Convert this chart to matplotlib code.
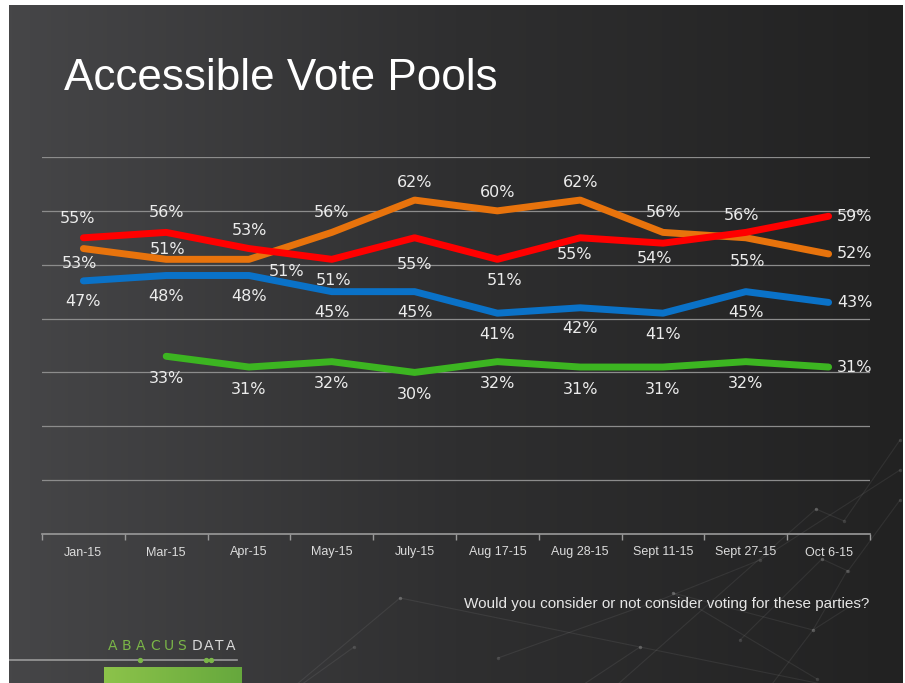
import numpy as np
import matplotlib
matplotlib.use("Agg")
import matplotlib.pyplot as plt

W, H = 905, 683

# data
months = ["Jan-15", "Mar-15", "Apr-15", "May-15", "July-15", "Aug 17-15",
          "Aug 28-15", "Sept 11-15", "Sept 27-15", "Oct 6-15"]
red = [55, 56, 53, 51, 55, 51, 55, 54, 56, 59]
orange = [53, 51, 51, 56, 62, 60, 62, 56, 55, 52]
blue = [47, 48, 48, 45, 45, 41, 42, 41, 45, 43]
green = [np.nan, 33, 31, 32, 30, 32, 31, 31, 32, 31]

# label offsets in points (dx, dy) for all points but the last one
red_off = [(-4, 14), (0, 14), (0, 13), (1, -15), (0, -19), (5, -15), (-4, -12), (-6, -11), (-3, 12)]
orange_off = [(-3, -11), (1, 7), (27, -9), (0, 14), (0, 13), (0, 13), (0, 13), (0, 14), (1, -17)]
blue_off = [(0, -15)] * 9
green_off = [None] + [(0, -16)] * 8

fig = plt.figure(figsize=(W / 100, H / 100), dpi=100)
fig.patch.set_facecolor("white")

# slide background
bg = fig.add_axes([9 / W, 0, (W - 11) / W, 1 - 5 / H])
grad = np.linspace(0, 1, 256)[None, :]
cmap = matplotlib.colors.LinearSegmentedColormap.from_list("bg", ["#464648", "#2f2f30", "#222222"])
bg.imshow(grad, aspect="auto", cmap=cmap, extent=[9, W - 2, H, 5])

# faint network decoration
deco = [[(400, 598), (640, 647), (900, 700)],
        [(354, 647), (280, 700)],
        [(400, 598), (290, 690)],
        [(498, 658), (660, 600), (760, 560), (900, 470)],
        [(673, 593), (813, 630), (860, 600)],
        [(847, 571), (813, 630), (760, 700)],
        [(673, 593), (817, 679)],
        [(816, 509), (844, 521), (900, 440)],
        [(822, 559), (848, 571), (900, 500)],
        [(822, 559), (740, 640)],
        [(600, 700), (816, 509)],
        [(640, 647), (560, 700)]]
for seg in deco:
    xs, ys = zip(*seg)
    bg.plot(xs, ys, color="#ffffff", alpha=0.07, lw=0.8)
    bg.scatter(xs, ys, s=6, color="#ffffff", alpha=0.12, lw=0)

# logo
bg.plot([9, 237], [660, 660], color="#9a9a9a", lw=1.2)
bg.scatter([140, 206, 211], [660, 660, 660], s=8, color="#7ab648", zorder=3)
for lx, ch in zip([108, 122, 136, 150, 164, 177], "ABACUS"):
    bg.text(lx, 646, ch, color="#7ab648", fontsize=10, family="DejaVu Sans", va="center", ha="left")
for lx, ch in zip([192, 204, 215, 226], "DATA"):
    bg.text(lx, 646, ch, color="#d8d8d8", fontsize=10, family="DejaVu Sans", va="center", ha="left")
lg = np.linspace(0, 1, 64)[None, :]
lcmap = matplotlib.colors.LinearSegmentedColormap.from_list("lg", ["#8cc34a", "#66a83d"])
bg.imshow(lg, aspect="auto", cmap=lcmap, extent=[104, 242, H, 667], zorder=2)
bg.set_xlim(9, W - 2)
bg.set_ylim(H, 5)
bg.axis("off")

# title and note
fig.text(64 / W, 1 - 78 / H, "Accessible Vote Pools", color="white", fontsize=31.7,
         family="Liberation Sans", va="center", ha="left")
fig.text(869 / W, 1 - 604 / H, "Would you consider or not consider voting for these parties?",
         color="#e6e6e6", fontsize=11, family=["Liberation Sans Narrow", "Liberation Sans"],
         va="center", ha="right")

# chart
ax = fig.add_axes([42 / W, 1 - 534 / H, 828 / W, 377 / H])
ax.set_facecolor("none")
x = np.arange(len(months))
ax.set_xlim(-0.5, len(months) - 0.5)
ax.set_ylim(0, 70)
for g in range(10, 71, 10):
    ax.axhline(g, color="#8c8c8c", lw=0.9, zorder=1)

series = [(green, "#3cb521", green_off), (blue, "#0a72c8", blue_off),
          (orange, "#e8730c", orange_off), (red, "#ff0000", red_off)]
for vals, col, offs in series:
    ax.plot(x, vals, color=col, lw=5, solid_capstyle="round", solid_joinstyle="round", zorder=3)
    for i, v in enumerate(vals):
        if np.isnan(v):
            continue
        label = f"{int(v)}%"
        if i == len(vals) - 1:
            ax.annotate(label, (x[i], v), xytext=(6, 0), textcoords="offset points",
                        ha="left", va="center", color="#ececec", fontsize=11.5,
                        family="DejaVu Sans", zorder=4)
        else:
            ax.annotate(label, (x[i], v), xytext=offs[i], textcoords="offset points",
                        ha="center", va="center", color="#ececec", fontsize=11.5,
                        family="DejaVu Sans", zorder=4)

for s in ["top", "right", "left"]:
    ax.spines[s].set_visible(False)
ax.spines["bottom"].set_color("#9a9a9a")
ax.spines["bottom"].set_linewidth(1.2)
ax.set_yticks([])
ax.set_xticks(np.arange(-0.5, len(months), 1))
ax.set_xticklabels([])
ax.set_xticks(x, minor=True)
ax.set_xticklabels(months, minor=True)
ax.tick_params(axis="x", which="major", length=4, color="#9a9a9a", width=1)
ax.tick_params(axis="x", which="minor", length=0, pad=9, labelsize=9, labelcolor="#dcdcdc")
for t in ax.get_xticklabels(minor=True):
    t.set_family(["Liberation Sans Narrow", "Liberation Sans"])

fig.savefig("out.png", dpi=100, facecolor=fig.get_facecolor())
